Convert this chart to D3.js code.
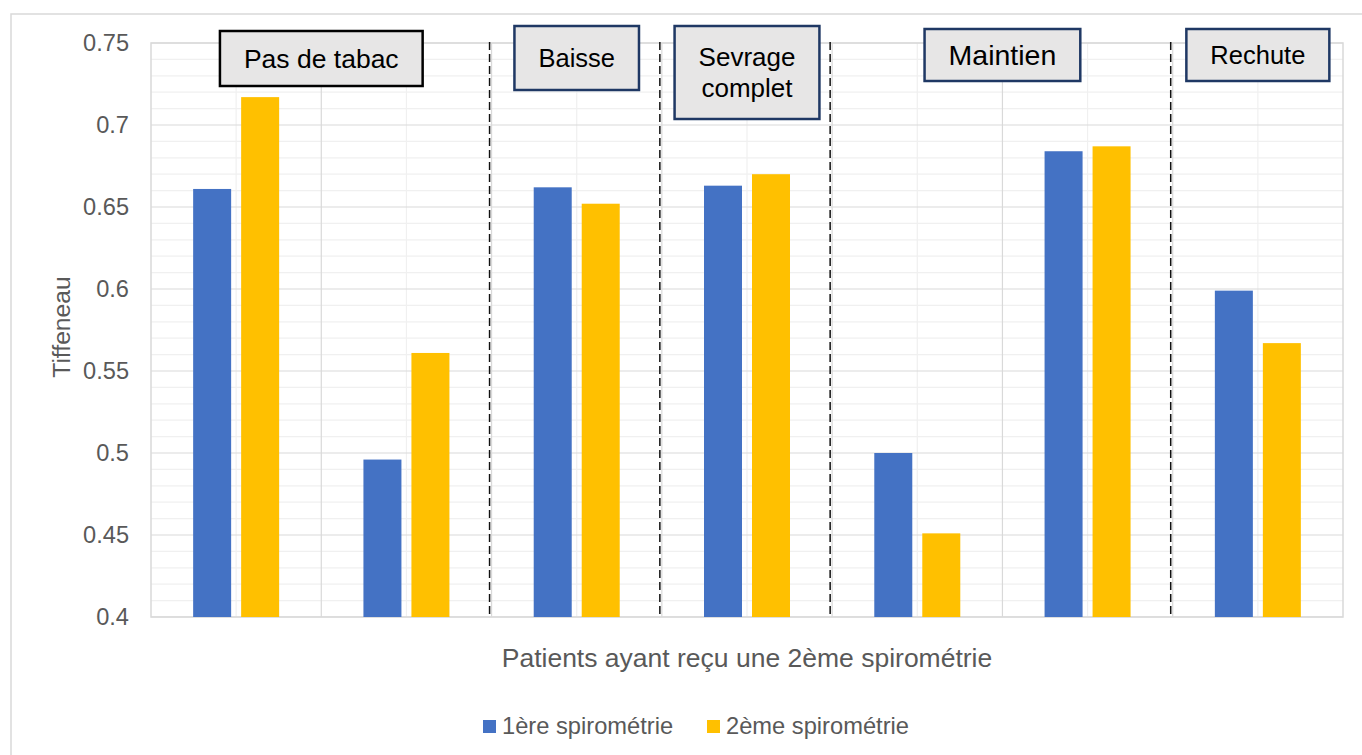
<!DOCTYPE html>
<html lang="fr">
<head>
<meta charset="utf-8">
<title>Tiffeneau – 1ère et 2ème spirométrie</title>
<script src="https://cdn.jsdelivr.net/npm/d3@7"></script>
<style>
  html, body { margin: 0; padding: 0; background: #ffffff; }
  svg { display: block; font-family: "Liberation Sans", Arial, sans-serif; }
</style>
</head>
<body>
<svg id="chart" width="1362" height="755"></svg>
<script>
// Patient groups (one pair of bars each)
const patients = ["P1", "P2", "P3", "P4", "P5", "P6", "P7"];
const seriesNames = ["1ère spirométrie", "2ème spirométrie"];
const firstSpiro  = [0.661, 0.496, 0.662, 0.663, 0.500, 0.684, 0.599];
const secondSpiro = [0.717, 0.561, 0.652, 0.670, 0.451, 0.687, 0.567];
const yTicks = [0.4, 0.45, 0.5, 0.55, 0.6, 0.65, 0.7, 0.75];
const yTickLabels = ["0.4", "0.45", "0.5", "0.55", "0.6", "0.65", "0.7", "0.75"];

// Smoking-status groups: label lines and the range of patients they cover
const statusLabels = [["Pas de tabac"], ["Baisse"], ["Sevrage", "complet"], ["Maintien"], ["Rechute"]];
const statusFirst = [0, 2, 3, 4, 6];
const statusLast  = [1, 2, 3, 5, 6];
// Dashed separators sit after these patient indices
const separatorsAfter = [1, 2, 3, 5];

const colors = ["#4472c4", "#ffc000"];
const textGrey = "#595959";

// Label box styling (top, height, font size, border colour)
const boxStyle = [
  { top: 31, h: 55, fs: 26.5, stroke: "#000000" },
  { top: 26, h: 64, fs: 25.5, stroke: "#1f3864" },
  { top: 26, h: 93, fs: 26,   stroke: "#1f3864" },
  { top: 29, h: 52, fs: 28.5, stroke: "#1f3864" },
  { top: 29, h: 52, fs: 25.5, stroke: "#1f3864" }
];

const svg = d3.select("#chart");
const plot = { left: 151, right: 1343, top: 43, bottom: 617 };

// Outer chart frame
svg.append("rect")
  .attr("x", 11).attr("y", 14)
  .attr("width", 1400).attr("height", 800)
  .attr("fill", "#ffffff")
  .attr("stroke", "#d9d9d9").attr("stroke-width", 1.5);

const x0 = d3.scaleBand().domain(patients).range([plot.left, plot.right]).paddingInner(0).paddingOuter(0);
const groupWidth = 86;
const x1 = d3.scaleBand().domain(seriesNames).range([0, groupWidth]).paddingInner(0.2083);
const y = d3.scaleLinear().domain([0.4, 0.75]).range([plot.bottom, plot.top]);

const g = svg.append("g");

// Minor horizontal gridlines every 0.01
const minorY = d3.range(0, 36).map(i => +(0.4 + i * 0.01).toFixed(2)).filter(v => Math.round(v * 100) % 5 !== 0);
g.append("g").selectAll("line").data(minorY).join("line")
  .attr("x1", plot.left).attr("x2", plot.right)
  .attr("y1", d => y(d)).attr("y2", d => y(d))
  .attr("stroke", "#f0f0f0").attr("stroke-width", 1.2);

// Minor vertical gridlines at group centres
g.append("g").selectAll("line").data(patients).join("line")
  .attr("x1", d => x0(d) + x0.bandwidth() / 2).attr("x2", d => x0(d) + x0.bandwidth() / 2)
  .attr("y1", plot.top).attr("y2", plot.bottom)
  .attr("stroke", "#f0f0f0").attr("stroke-width", 1.2);

// Major vertical gridlines at group boundaries
g.append("g").selectAll("line").data(patients.slice(1)).join("line")
  .attr("x1", d => x0(d)).attr("x2", d => x0(d))
  .attr("y1", plot.top).attr("y2", plot.bottom)
  .attr("stroke", "#d9d9d9").attr("stroke-width", 1.2);

// Major horizontal gridlines
g.append("g").selectAll("line").data(yTicks).join("line")
  .attr("x1", plot.left).attr("x2", plot.right)
  .attr("y1", d => y(d)).attr("y2", d => y(d))
  .attr("stroke", "#d9d9d9").attr("stroke-width", 1.2);

// Plot area frame
g.append("rect")
  .attr("x", plot.left).attr("y", plot.top)
  .attr("width", plot.right - plot.left).attr("height", plot.bottom - plot.top)
  .attr("fill", "none").attr("stroke", "#d9d9d9").attr("stroke-width", 1.5);

// Bars
const rows = patients.map((p, i) => ({ p, vals: [firstSpiro[i], secondSpiro[i]] }));
const groups = g.append("g").selectAll("g").data(rows).join("g")
  .attr("transform", d => `translate(${x0(d.p) + (x0.bandwidth() - groupWidth) / 2},0)`);
groups.selectAll("rect").data(d => d.vals.map((v, k) => ({ k, v }))).join("rect")
  .attr("x", d => x1(seriesNames[d.k]))
  .attr("width", x1.bandwidth())
  .attr("y", d => y(d.v))
  .attr("height", d => y(0.4) - y(d.v))
  .attr("fill", d => colors[d.k]);

// Dashed separators between smoking-status groups
g.append("g").selectAll("line").data(separatorsAfter).join("line")
  .attr("x1", i => x0(patients[i]) + x0.bandwidth() - 2)
  .attr("x2", i => x0(patients[i]) + x0.bandwidth() - 2)
  .attr("y1", plot.top - 1).attr("y2", plot.bottom)
  .attr("stroke", "#111").attr("stroke-width", 1.5)
  .attr("stroke-dasharray", "8,4");

// Y axis labels
const yAxis = d3.axisLeft(y).tickValues(yTicks).tickFormat((d, i) => yTickLabels[i]).tickSize(0).tickPadding(22);
const ya = svg.append("g").attr("transform", `translate(${plot.left},0)`).call(yAxis);
ya.select(".domain").remove();
ya.selectAll("text")
  .attr("font-family", "'Liberation Sans', Arial, sans-serif")
  .attr("font-size", 23.6).attr("fill", textGrey);

// Axis titles
svg.append("text")
  .attr("transform", `translate(70,${(plot.top + plot.bottom) / 2 - 3}) rotate(-90)`)
  .attr("text-anchor", "middle")
  .attr("font-size", 24.7).attr("fill", textGrey)
  .text("Tiffeneau");

svg.append("text")
  .attr("x", (plot.left + plot.right) / 2).attr("y", 667)
  .attr("text-anchor", "middle")
  .attr("font-size", 26.5).attr("fill", textGrey)
  .text("Patients ayant reçu une 2ème spirométrie");

// Status label boxes
const boxes = svg.append("g");
statusLabels.forEach((lines, i) => {
  const st = boxStyle[i];
  const cx = (x0(patients[statusFirst[i]]) + x0(patients[statusLast[i]]) + x0.bandwidth()) / 2;
  const bg = boxes.append("g");
  const rect = bg.append("rect");
  const txt = bg.append("text")
    .attr("text-anchor", "middle")
    .attr("font-size", st.fs).attr("fill", "#000");
  const lineH = st.fs * 1.2;
  const cy = st.top + st.h / 2;
  lines.forEach((ln, k) => {
    txt.append("tspan")
      .attr("x", cx)
      .attr("y", cy + (k - (lines.length - 1) / 2) * lineH + 0.36 * st.fs)
      .text(ln);
  });
  const w = txt.node().getBBox().width + 48;
  rect.attr("x", cx - w / 2).attr("y", st.top)
    .attr("width", w).attr("height", st.h)
    .attr("fill", "#e7e6e6")
    .attr("stroke", st.stroke).attr("stroke-width", 2.5);
});

// Legend
const legend = svg.append("g");
const legendX = [483, 707];
seriesNames.forEach((name, k) => {
  legend.append("rect")
    .attr("x", legendX[k]).attr("y", 720)
    .attr("width", 13).attr("height", 13)
    .attr("fill", colors[k]);
  legend.append("text")
    .attr("x", legendX[k] + 19).attr("y", 734)
    .attr("font-size", 23.7).attr("fill", textGrey)
    .text(name);
});
</script>
</body>
</html>
